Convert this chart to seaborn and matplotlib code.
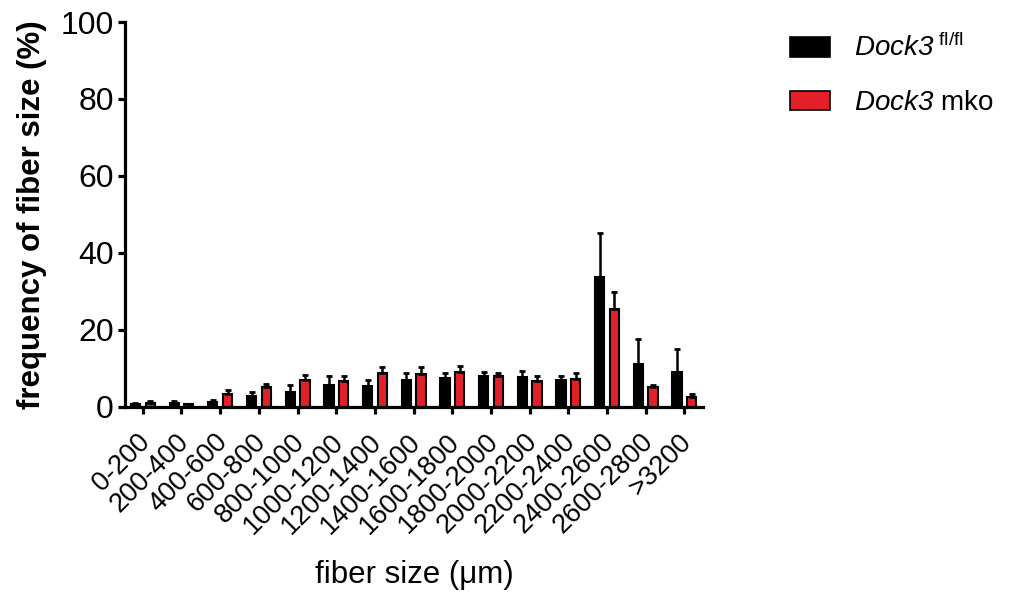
import numpy as np
import pandas as pd
import matplotlib
matplotlib.use("Agg")
import matplotlib.pyplot as plt
import matplotlib.transforms as mtransforms
import seaborn as sns
from matplotlib.patches import Patch

categories = ["0-200", "200-400", "400-600", "600-800", "800-1000", "1000-1200",
              "1200-1400", "1400-1600", "1600-1800", "1800-2000", "2000-2200",
              "2200-2400", "2400-2600", "2600-2800", ">3200"]
flfl_mean = [0.7, 1.0, 1.2, 2.65, 3.8, 5.6, 5.25, 6.8, 7.4, 8.0, 7.6, 6.9, 33.8, 11.05, 9.05]
flfl_err = [0.2, 0.4, 0.5, 1.15, 1.7, 2.25, 1.65, 1.8, 1.2, 1.05, 1.55, 1.0, 11.4, 6.55, 5.95]
mko_mean = [0.9, 0.65, 3.3, 5.07, 6.8, 6.7, 8.6, 8.45, 8.9, 7.9, 6.6, 7.2, 25.4, 5.07, 2.47]
mko_err = [0.6, 0.0, 1.1, 0.8, 1.5, 1.3, 1.6, 1.85, 1.6, 0.7, 1.4, 1.6, 4.3, 0.45, 0.8]
groups = ["fl/fl", "mko"]
legend_labels = [r"$\mathsf{Dock3}^{\ \mathrm{fl/fl}}$", r"$\mathsf{Dock3}$ mko"]
colors = ["#000000", "#E3202A"]

sns.set_style("ticks")
plt.rcParams["font.family"] = ["Liberation Sans", "DejaVu Sans"]
plt.rcParams["mathtext.fontset"] = "custom"
plt.rcParams["mathtext.rm"] = "Liberation Sans"
plt.rcParams["mathtext.it"] = "Liberation Sans:italic"
plt.rcParams["mathtext.sf"] = "Liberation Sans:italic"
plt.rcParams["mathtext.bf"] = "Liberation Sans:bold"
for k in ["text.color", "axes.labelcolor", "xtick.color", "ytick.color", "axes.edgecolor"]:
    plt.rcParams[k] = "black"

df = pd.DataFrame({
    "size": categories * 2,
    "group": [groups[0]] * len(categories) + [groups[1]] * len(categories),
    "freq": flfl_mean + mko_mean,
    "err": flfl_err + mko_err,
})

fig = plt.figure(figsize=(10.18, 5.98), dpi=100)
ax = fig.add_axes([125 / 1018, 1 - 406.5 / 598, (703 - 125) / 1018, (406.5 - 22) / 598])

sns.barplot(data=df, x="size", y="freq", hue="group", order=categories,
            hue_order=groups, palette=colors, width=0.76, gap=0.37,
            errorbar=None, edgecolor="black", linewidth=1.5, ax=ax,
            saturation=1, legend=False)

for gi, g in enumerate(groups):
    sub = df[df["group"] == g].set_index("size").loc[categories]
    cont = ax.containers[gi]
    xs = [p.get_x() + p.get_width() / 2 for p in cont.patches]
    ax.errorbar(xs, sub["freq"].values,
                yerr=[np.zeros(len(xs)), sub["err"].values],
                fmt="none", ecolor="black", elinewidth=1.8, capsize=2.5,
                capthick=2.0, zorder=1)

ax.set_xlim(-0.46, 14.48)
ax.set_ylim(0, 100)
ax.set_yticks([0, 20, 40, 60, 80, 100])
sns.despine(ax=ax)
for s in ["left", "bottom"]:
    ax.spines[s].set_linewidth(2.3)
ax.tick_params(axis="both", width=2.3, length=5, pad=3, colors="black")
ax.tick_params(axis="y", labelsize=23)
ax.set_xticks(range(len(categories)))
ax.set_xticklabels(categories, rotation=45, ha="right", va="top",
                   rotation_mode="anchor", fontsize=19.5)
ax.tick_params(axis="x", pad=11)
offset = mtransforms.ScaledTranslation(-6 / 100, 0, fig.dpi_scale_trans)
for lab in ax.get_xticklabels():
    lab.set_transform(lab.get_transform() + offset)
ax.set_ylabel("frequency of fiber size (%)", fontsize=22.5, fontweight="bold", labelpad=10)
ax.set_xlabel("fiber size (\u03bcm)", fontsize=22.5)
ax.xaxis.set_label_coords(0.5, (406.5 - 560) / 384.5)

handles = [Patch(facecolor=c, edgecolor="black", linewidth=1.2) for c in colors]
fig.legend(handles, legend_labels, loc="upper left",
           bbox_to_anchor=(790 / 1018, 1 - 34 / 598), frameon=False,
           fontsize=20, handlelength=1.45, handleheight=0.72,
           handletextpad=0.85, labelspacing=1.0, borderpad=0, borderaxespad=0)

fig.savefig("out.png", dpi=100)
